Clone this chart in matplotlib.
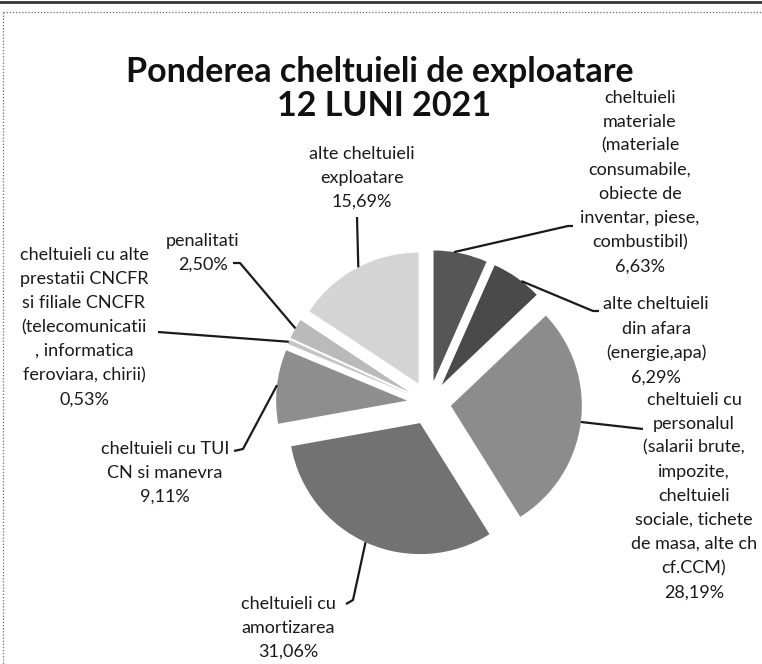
import matplotlib
matplotlib.use('Agg')
import matplotlib.pyplot as plt
import numpy as np

# pie data
labels = ['cheltuieli\nmateriale\n(materiale\nconsumabile,\nobiecte de\ninventar, piese,\ncombustibil)',
          'alte cheltuieli\ndin afara\n(energie,apa)',
          'cheltuieli cu\npersonalul\n(salarii brute,\nimpozite,\ncheltuieli\nsociale, tichete\nde masa, alte ch\ncf.CCM)',
          'cheltuieli cu\namortizarea',
          'cheltuieli cu TUI\nCN si manevra',
          'cheltuieli cu alte\nprestatii CNCFR\nsi filiale CNCFR\n(telecomunicatii\n, informatica\nferoviara, chirii)',
          'penalitati',
          'alte cheltuieli\nexploatare']
shares = [6.63, 6.29, 28.19, 31.06, 9.11, 0.53, 2.50, 15.69]
colors = ['#565656', '#4a4a4a', '#8c8c8c', '#727272', '#8e8e8e', '#c4c4c4', '#bababa', '#d4d4d4']

title1 = 'Ponderea cheltuieli de exploatare'
title2 = '12 LUNI 2021'

# layout (pixel coords, y measured from the top of the image)
W, H = 762, 664
pie_center = (429, 403)
pie_radius = 131
explode_px = 22
label_pos = [(640, 182), (656, 341), (694, 496), (288, 628), (165, 473), (84, 327), (203, 253), (362, 178)]
anchor_deg = [81.0, 52.5, -7.1, -114.6, 173.2, 156.4, 150.8, 117.4]
leader_end = [[(568, 226), (573, 226)],
              [(593, 311), (599, 311)],
              [(643, 429)],
              [(353, 600), (346, 604)],
              [(243, 449), (234, 451)],
              [(158, 332)],
              [(240, 263), (233, 263)],
              [(357, 217)]]

plt.rcParams['font.family'] = ['Lato', 'DejaVu Sans']

fig = plt.figure(figsize=(W / 100, H / 100), dpi=100)
ax = fig.add_axes([0, 0, 1, 1])


def Y(y):
    return H - y


# explode is in data units here (not scaled by radius)
wedges, _ = ax.pie(shares, colors=colors, startangle=90, counterclock=False,
                   explode=[explode_px] * len(shares),
                   center=(pie_center[0], Y(pie_center[1])), radius=pie_radius,
                   wedgeprops=dict(linewidth=0))
ax.set_xlim(0, W)
ax.set_ylim(0, H)
ax.set_aspect('equal')
ax.axis('off')

for w, lab, v, pos, ang, ends in zip(wedges, labels, shares, label_pos, anchor_deg, leader_end):
    txt = lab + '\n' + ('%.2f%%' % v).replace('.', ',')
    ax.text(pos[0], Y(pos[1]), txt, ha='center', va='center', fontsize=13,
            linespacing=1.62, color='#1a1a1a')
    cx, cy = w.center
    a = np.deg2rad(ang)
    xs = [cx + w.r * np.cos(a)] + [p[0] for p in ends]
    ys = [cy + w.r * np.sin(a)] + [Y(p[1]) for p in ends]
    ax.plot(xs, ys, color='#1a1a1a', lw=1.6, solid_capstyle='butt')

ax.text(380, Y(72), title1, ha='center', va='center', fontsize=24.5, fontweight='bold', color='#111111')
ax.text(384, Y(106), title2, ha='center', va='center', fontsize=24.5, fontweight='bold', color='#111111')

# scanned frame
ax.plot([3, 3], [Y(12), 0], color='#666666', lw=0.9, ls=(0, (1, 1.5)))
ax.plot([3, W], [Y(12), Y(12)], color='#666666', lw=0.9, ls=(0, (1, 1.5)))
ax.plot([0, W], [Y(1.5), Y(1.5)], color='#333333', lw=2)

fig.savefig('out.png', dpi=100)
